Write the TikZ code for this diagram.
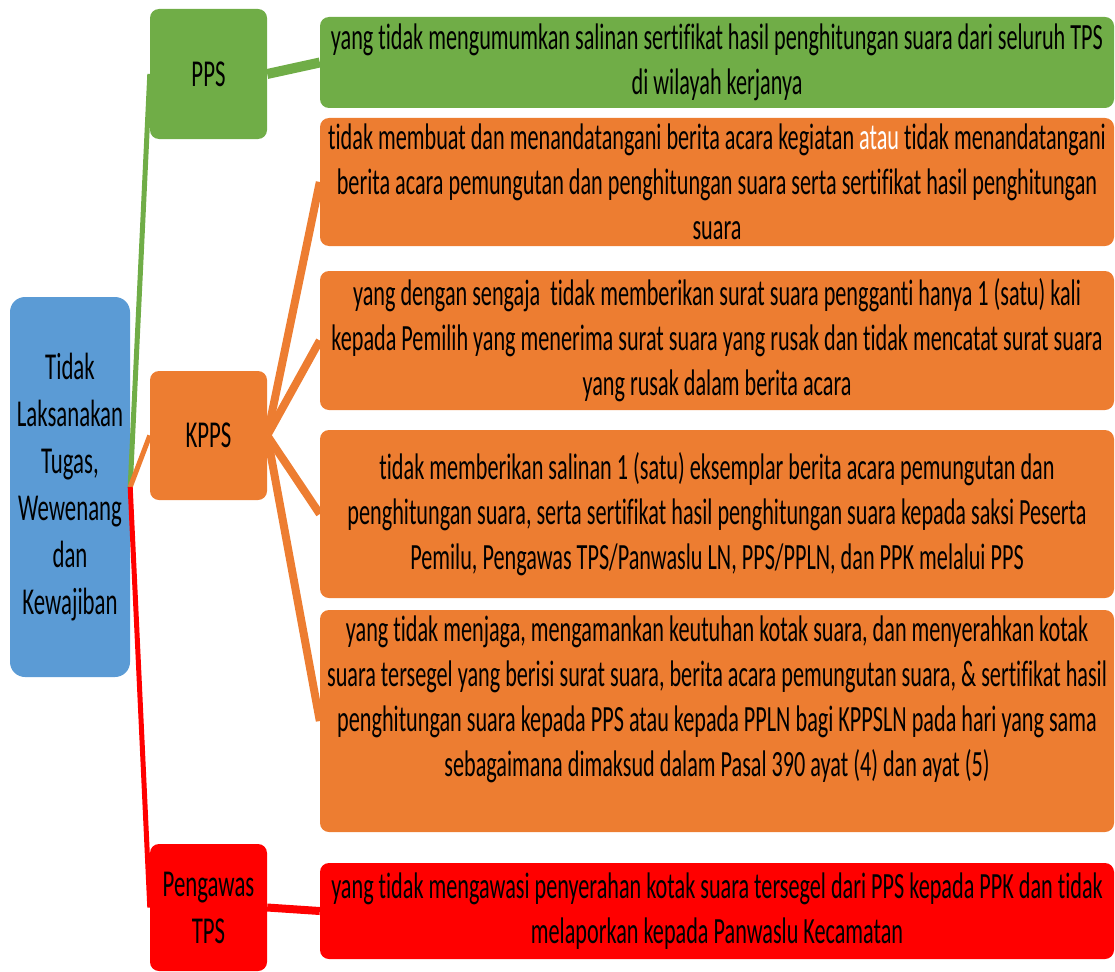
\documentclass[tikz,border=0pt]{standalone}
\usepackage{fontspec}
\setmainfont[FakeStretch=0.6, Ligatures=NoCommon]{Carlito}
\definecolor{hijau}{HTML}{70AD47}
\definecolor{oranye}{HTML}{ED7D31}
\definecolor{biru}{HTML}{5B9BD5}
\definecolor{merah}{HTML}{FF0000}

\begin{document}
\begin{tikzpicture}[x=1pt, y=-1pt,
	box/.style={rounded corners=9pt, inner sep=0pt, align=center, font=\fontsize{37}{45}\selectfont},
	kid/.style={box, minimum width=117pt, font=\fontsize{38}{47}\selectfont},
	isi/.style={box, minimum width=794pt},
	akar/.style={line width=5pt},
	cabang/.style={line width=8pt}]

\useasboundingbox (0,0) rectangle (1115,971);

\node[box, fill=biru, minimum width=120pt, minimum height=380pt, rounded corners=15pt, font=\fontsize{38}{47}\selectfont] (root) at (70,487)
	{Tidak\\Laksanakan\\Tugas,\\Wewenang\\dan\\Kewajiban};

\node[kid, fill=hijau, minimum height=130pt] (pps) at (208.5,74) {PPS};
\node[kid, fill=oranye, minimum height=129pt] (kpps) at (208.5,435.5) {KPPS};
\node[kid, fill=merah, minimum height=127pt] (pws) at (208.5,907.5) {Pengawas\\TPS};

\node[isi, fill=hijau, minimum height=91pt] (g1) at (717,62.5)
	{yang tidak mengumumkan salinan sertifikat hasil penghitungan suara dari seluruh TPS\\di wilayah kerjanya};
\node[isi, fill=oranye, minimum height=128pt] (o1) at (717,182)
	{tidak membuat dan menandatangani berita acara kegiatan \textcolor{white}{atau} tidak menandatangani\\berita acara pemungutan dan penghitungan suara serta sertifikat hasil penghitungan\\suara};
\node[isi, fill=oranye, minimum height=139pt] (o2) at (717,340.5)
	{yang dengan sengaja\ \ tidak memberikan surat suara pengganti hanya 1 (satu) kali\\kepada Pemilih yang menerima surat suara yang rusak dan tidak mencatat surat suara\\yang rusak dalam berita acara};
\node[isi, fill=oranye, minimum height=168pt] (o3) at (717,514)
	{tidak memberikan salinan 1 (satu) eksemplar berita acara pemungutan dan\\penghitungan suara, serta sertifikat hasil penghitungan suara kepada saksi Peserta\\Pemilu, Pengawas TPS/Panwaslu LN, PPS/PPLN, dan PPK melalui PPS};
\node[isi, fill=oranye, minimum height=222pt] (o4) at (717,721)
	{yang tidak menjaga, mengamankan keutuhan kotak suara, dan menyerahkan kotak\\suara tersegel yang berisi surat suara, berita acara pemungutan suara, \& sertifikat hasil\\penghitungan suara kepada PPS atau kepada PPLN bagi KPPSLN pada hari yang sama\\sebagaimana dimaksud dalam Pasal 390 ayat (4) dan ayat (5)\rule[-49pt]{0pt}{0pt}};
\node[isi, fill=merah, minimum height=96pt] (r1) at (717,911)
	{yang tidak mengawasi penyerahan kotak suara tersegel dari PPS kepada PPK dan tidak\\melaporkan kepada Panwaslu Kecamatan};

% dari akar
\draw[akar, hijau] (root.east) -- (pps.west);
\draw[akar, oranye] (root.east) -- (kpps.west);
\draw[akar, merah] (root.east) -- (pws.west);

% ke kotak isi
\draw[line width=10pt, hijau] (pps.east) -- (g1.west);
\foreach \v in {o1,o2,o3,o4}{
	\draw[cabang, oranye] (kpps.east) -- (\v.west);
}
\draw[cabang, merah] (pws.east) -- (r1.west);

\end{tikzpicture}
\end{document}
